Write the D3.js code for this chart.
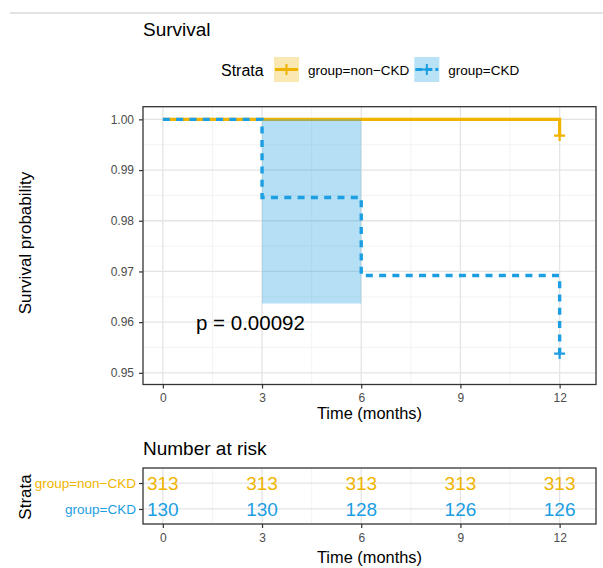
<!DOCTYPE html>
<html>
<head>
  <meta charset="UTF-8">
  <title>Survival</title>
  <script src="https://d3js.org/d3.v7.min.js"></script>
  <style>
    body {
      margin: 0;
      background: #fff;
      font-family: "Liberation Sans", Arial, sans-serif;
    }
    .tick text {
      fill: #4d4d4d;
      font-size: 12px;
      font-family: "Liberation Sans", Arial, sans-serif;
    }
    .tick line {
      stroke: #333;
      stroke-width: 1.2;
    }
  </style>
</head>
<body>
  <svg id="chart" width="603" height="568"></svg>
  <script>
    // values
    const timeTicks = [0, 3, 6, 9, 12];
    const timeMinor = [1.5, 4.5, 7.5, 10.5];
    const survTicks = [0.95, 0.96, 0.97, 0.98, 0.99, 1.00];
    const survMinor = [0.955, 0.965, 0.975, 0.985, 0.995];
    const strata = ["group=non\u2212CKD", "group=CKD"];
    const colours = ["#F0B400", "#1C9EE2"];

    const nonCkdTime = [0, 12];
    const nonCkdSurv = [1.0, 0.9968];
    const ckdTime = [0, 3, 6, 12];
    const ckdSurv = [1.0, 0.9846, 0.9692, 0.9538];

    // confidence band of CKD (only the part inside the y limits is shown)
    const ckdBandTime = [3, 6];
    const ckdBandLower = [0.9637, 0.9637];
    const ckdBandUpper = [1.0, 1.0];

    const censorTime = [12, 12];
    const censorSurv = [0.9968, 0.9538];

    const riskNonCkd = [313, 313, 313, 313, 313];
    const riskCkd = [130, 130, 128, 126, 126];
    const pLabel = "p = 0.00092";

    const svg = d3.select("#chart");

    // faint rule along the top
    svg.append("line")
      .attr("x1", 10).attr("x2", 603)
      .attr("y1", 13).attr("y2", 13)
      .attr("stroke", "#e3e3e3")
      .attr("stroke-width", 2);

    const panel = { left: 143, right: 596, top: 106.7, bottom: 384.5 };

    const x = d3.scaleLinear()
      .domain([-0.6, 13.1])
      .range([panel.left, panel.right]);

    const y = d3.scaleLinear()
      .domain([0.9477, 1.0025])
      .range([panel.bottom, panel.top]);

    // title
    svg.append("text")
      .attr("x", 143).attr("y", 36)
      .style("font-size", "19px")
      .text("Survival");

    // legend
    const legend = svg.append("g");
    legend.append("text")
      .attr("x", 221).attr("y", 75.5)
      .style("font-size", "16px")
      .text("Strata");

    let lx = 274;
    strata.forEach((s, i) => {
      const g = legend.append("g").attr("transform", `translate(${lx},57)`);
      g.append("rect")
        .attr("width", 25).attr("height", 25)
        .attr("fill", colours[i])
        .attr("fill-opacity", 0.3);
      g.append("line")
        .attr("x1", 1).attr("x2", 24)
        .attr("y1", 12.5).attr("y2", 12.5)
        .attr("stroke", colours[i])
        .attr("stroke-width", 3)
        .attr("stroke-dasharray", i === 1 ? "7,3" : null);
      g.append("path")
        .attr("d", "M12.5,7V18M7.5,12.5H17.5")
        .attr("stroke", colours[i])
        .attr("stroke-width", 2);
      const t = legend.append("text")
        .attr("x", lx + 34).attr("y", 74.5)
        .style("font-size", "13.5px")
        .text(s);
      lx += 34 + t.node().getComputedTextLength() + 5;
    });

    // main panel
    const main = svg.append("g");

    main.append("rect")
      .attr("x", panel.left).attr("y", panel.top)
      .attr("width", panel.right - panel.left)
      .attr("height", panel.bottom - panel.top)
      .attr("fill", "#fff");

    main.selectAll(".vminor")
      .data(timeMinor)
      .enter().append("line")
      .attr("x1", d => x(d)).attr("x2", d => x(d))
      .attr("y1", panel.top).attr("y2", panel.bottom)
      .attr("stroke", "#f0f0f0").attr("stroke-width", 0.8);

    main.selectAll(".hminor")
      .data(survMinor)
      .enter().append("line")
      .attr("x1", panel.left).attr("x2", panel.right)
      .attr("y1", d => y(d)).attr("y2", d => y(d))
      .attr("stroke", "#f0f0f0").attr("stroke-width", 0.8);

    main.selectAll(".vmajor")
      .data(timeTicks)
      .enter().append("line")
      .attr("x1", d => x(d)).attr("x2", d => x(d))
      .attr("y1", panel.top).attr("y2", panel.bottom)
      .attr("stroke", "#e4e4e4").attr("stroke-width", 1.3);

    main.selectAll(".hmajor")
      .data(survTicks)
      .enter().append("line")
      .attr("x1", panel.left).attr("x2", panel.right)
      .attr("y1", d => y(d)).attr("y2", d => y(d))
      .attr("stroke", "#e4e4e4").attr("stroke-width", 1.3);

    const stepLine = d3.line()
      .x(d => x(d[0]))
      .y(d => y(d[1]))
      .curve(d3.curveStepAfter);

    main.append("path")
      .datum(d3.zip(nonCkdTime, nonCkdSurv))
      .attr("d", stepLine)
      .attr("fill", "none")
      .attr("stroke", colours[0])
      .attr("stroke-width", 3.2);

    const band = d3.area()
      .x(d => x(d[0]))
      .y0(d => y(d[1]))
      .y1(d => y(d[2]))
      .curve(d3.curveStepAfter);

    main.append("path")
      .datum(d3.zip(ckdBandTime, ckdBandLower, ckdBandUpper))
      .attr("d", band)
      .attr("fill", colours[1])
      .attr("fill-opacity", 0.33);

    main.append("path")
      .datum(d3.zip(ckdTime, ckdSurv))
      .attr("d", stepLine)
      .attr("fill", "none")
      .attr("stroke", colours[1])
      .attr("stroke-width", 3.4)
      .attr("stroke-dasharray", "7,6.3");

    main.selectAll(".censor")
      .data(d3.zip(censorTime, censorSurv))
      .enter().append("path")
      .attr("d", d => `M${x(d[0]) - 5.5},${y(d[1])}H${x(d[0]) + 5.5}M${x(d[0])},${y(d[1]) - 5.5}V${y(d[1]) + 5.5}`)
      .attr("stroke", (d, i) => colours[i])
      .attr("stroke-width", 2.2);

    main.append("text")
      .attr("x", 196).attr("y", 330)
      .style("font-size", "20.5px")
      .text(pLabel);

    main.append("rect")
      .attr("x", panel.left).attr("y", panel.top)
      .attr("width", panel.right - panel.left)
      .attr("height", panel.bottom - panel.top)
      .attr("fill", "none")
      .attr("stroke", "#333")
      .attr("stroke-width", 1.3);

    main.append("g")
      .attr("transform", `translate(${panel.left},0)`)
      .call(d3.axisLeft(y).tickValues(survTicks).tickFormat(d3.format(".2f")).tickSize(4).tickPadding(5))
      .call(g => g.select(".domain").remove());

    main.append("g")
      .attr("transform", `translate(0,${panel.bottom})`)
      .call(d3.axisBottom(x).tickValues(timeTicks).tickSize(4).tickPadding(5.3))
      .call(g => g.select(".domain").remove());

    svg.append("text")
      .attr("transform", "translate(31,243) rotate(-90)")
      .attr("text-anchor", "middle")
      .style("font-size", "17px")
      .text("Survival probability");

    svg.append("text")
      .attr("x", (panel.left + panel.right) / 2).attr("y", 419)
      .attr("text-anchor", "middle")
      .style("font-size", "16.4px")
      .text("Time (months)");

    // number at risk table
    const table = { left: 143, right: 596, top: 468, bottom: 524 };

    svg.append("text")
      .attr("x", 143).attr("y", 455)
      .style("font-size", "19px")
      .text("Number at risk");

    const xr = d3.scaleLinear()
      .domain([-0.6, 13.1])
      .range([table.left, table.right]);

    const yr = d3.scalePoint()
      .domain(strata)
      .range([table.top, table.bottom])
      .padding(0.58);

    const tg = svg.append("g");

    tg.selectAll(".vminor")
      .data(timeMinor)
      .enter().append("line")
      .attr("x1", d => xr(d)).attr("x2", d => xr(d))
      .attr("y1", table.top).attr("y2", table.bottom)
      .attr("stroke", "#f0f0f0").attr("stroke-width", 0.8);

    tg.selectAll(".vmajor")
      .data(timeTicks)
      .enter().append("line")
      .attr("x1", d => xr(d)).attr("x2", d => xr(d))
      .attr("y1", table.top).attr("y2", table.bottom)
      .attr("stroke", "#e4e4e4").attr("stroke-width", 1.3);

    tg.selectAll(".hmajor")
      .data(strata)
      .enter().append("line")
      .attr("x1", table.left).attr("x2", table.right)
      .attr("y1", d => yr(d)).attr("y2", d => yr(d))
      .attr("stroke", "#e4e4e4").attr("stroke-width", 1.3);

    const riskRows = [riskNonCkd, riskCkd];
    riskRows.forEach((row, i) => {
      tg.selectAll(".risk" + i)
        .data(d3.zip(timeTicks, row))
        .enter().append("text")
        .attr("x", d => xr(d[0]))
        .attr("y", yr(strata[i]) + 7)
        .attr("text-anchor", "middle")
        .attr("fill", colours[i])
        .style("font-size", "19px")
        .text(d => d[1]);
    });

    tg.append("rect")
      .attr("x", table.left).attr("y", table.top)
      .attr("width", table.right - table.left)
      .attr("height", table.bottom - table.top)
      .attr("fill", "none")
      .attr("stroke", "#333")
      .attr("stroke-width", 1.3);

    tg.append("g")
      .attr("transform", `translate(${table.left},0)`)
      .call(d3.axisLeft(yr).tickSize(4).tickPadding(3))
      .call(g => g.select(".domain").remove())
      .call(g => g.selectAll(".tick text")
        .style("font-size", "13.5px")
        .style("fill", (d, i) => colours[i]));

    tg.append("g")
      .attr("transform", `translate(0,${table.bottom})`)
      .call(d3.axisBottom(xr).tickValues(timeTicks).tickSize(4).tickPadding(5))
      .call(g => g.select(".domain").remove());

    svg.append("text")
      .attr("transform", "translate(31,497) rotate(-90)")
      .attr("text-anchor", "middle")
      .style("font-size", "17px")
      .text("Strata");

    svg.append("text")
      .attr("x", (table.left + table.right) / 2).attr("y", 563)
      .attr("text-anchor", "middle")
      .style("font-size", "16.4px")
      .text("Time (months)");
  </script>
</body>
</html>
